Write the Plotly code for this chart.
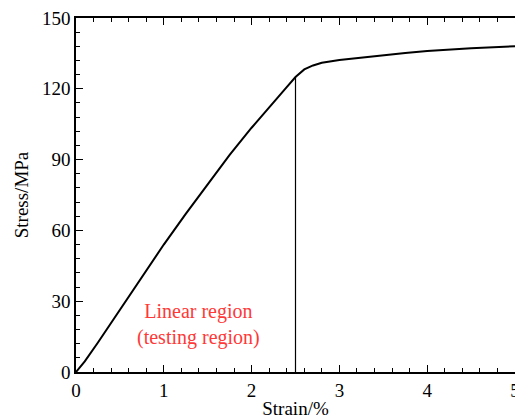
import plotly.graph_objects as go

strain = [0, 0.1, 0.25, 0.5, 0.75, 1.0, 1.25, 1.5, 1.75, 2.0, 2.25, 2.4, 2.5,
          2.55, 2.6, 2.7, 2.8, 3.0, 3.25, 3.5, 3.75, 4.0, 4.5, 5.0]
stress = [0, 4.5, 12.5, 26.5, 40.5, 54, 67, 79.5, 92, 103.5, 114.5, 120.7, 125,
          126.8, 128.2, 129.9, 131, 132.2, 133.3, 134.3, 135.2, 136, 137.2, 138]

marker_x = [2.5, 2.5]
marker_y = [0, 125]

x_ticks = [0, 1, 2, 3, 4, 5]
y_ticks = [0, 30, 60, 90, 120, 150]

FONT = "serif"
FS = 19

fig = go.Figure()
fig.add_trace(go.Scatter(x=strain, y=stress, mode="lines", line=dict(color="black", width=2),
                         showlegend=False, hoverinfo="skip"))
fig.add_trace(go.Scatter(x=marker_x, y=marker_y, mode="lines", line=dict(color="black", width=1.2),
                         showlegend=False, hoverinfo="skip"))

fig.add_annotation(x=1.4, y=20, text="Linear region<br>(testing region)", showarrow=False,
                   font=dict(family=FONT, size=20, color="#ff3838"), align="center")

fig.update_layout(
    width=515, height=419,
    margin=dict(l=76, r=0, t=18, b=47, autoexpand=False),
    plot_bgcolor="white", paper_bgcolor="white",
    font=dict(family=FONT, size=FS, color="black"),
    xaxis=dict(range=[0, 5], tickvals=x_ticks, ticks="inside", ticklen=7, tickwidth=1, tickcolor="black",
               ticklabeloverflow="allow", automargin=False,
               minor=dict(dtick=0.2, ticks="inside", ticklen=4, tickcolor="black", tickwidth=1),
               showline=True, linecolor="black", linewidth=1.5, mirror="ticks", showgrid=False, zeroline=False,
               title=dict(text="Strain/%", standoff=2, font=dict(family=FONT, size=FS))),
    yaxis=dict(range=[0, 150], tickvals=y_ticks, ticks="inside", ticklen=7, tickwidth=1, tickcolor="black",
               automargin=False,
               minor=dict(dtick=6, ticks="inside", ticklen=4, tickcolor="black", tickwidth=1),
               showline=True, linecolor="black", linewidth=1.5, mirror=False, showgrid=False, zeroline=False,
               title=dict(text="Stress/MPa", standoff=8, font=dict(family=FONT, size=FS))),
)

fig.write_html("out.html")
